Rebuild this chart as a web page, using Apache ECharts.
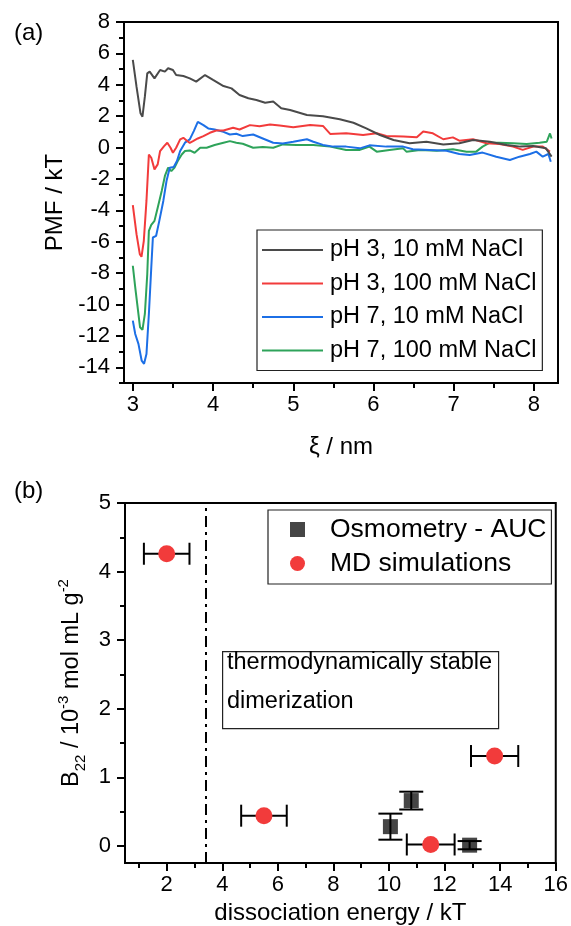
<!DOCTYPE html>
<html>
<head>
<meta charset="utf-8">
<script src="https://cdn.jsdelivr.net/npm/echarts@6/dist/echarts.min.js"></script>
<style>
  html, body { margin: 0; padding: 0; background: #fff; }
  #chart { width: 571px; height: 926px; }
</style>
</head>
<body>
<div id="chart"></div>
<script>
// (a) PMF curves, [xi (nm), PMF (kT)]
const pH3Na10 = [[3.0,5.58],[3.046,3.88],[3.096,2.18],[3.12,1.97],[3.15,3.24],[3.18,4.73],[3.21,4.84],[3.27,4.41],[3.34,4.94],[3.40,4.84],[3.44,5.05],[3.50,4.94],[3.54,4.62],[3.63,4.56],[3.71,4.41],[3.79,4.2],[3.90,4.62],[4.0,4.31],[4.13,3.92],[4.23,3.77],[4.33,3.35],[4.44,3.14],[4.54,3.03],[4.65,2.86],[4.75,2.93],[4.85,2.5],[4.96,2.39],[5.17,2.07],[5.37,2.0],[5.58,1.8],[5.75,1.58],[5.91,1.22],[6.08,0.8],[6.25,0.48],[6.45,0.27],[6.66,0.37],[6.87,0.2],[7.07,0.27],[7.24,0.48],[7.45,0.37],[7.66,0.17],[7.83,0.06],[7.99,0.1],[8.15,-0.05],[8.22,-0.58]];
const pH3Na100 = [[3.0,-3.66],[3.046,-5.52],[3.087,-6.79],[3.108,-6.96],[3.137,-5.94],[3.17,-3.4],[3.2,-0.44],[3.23,-0.65],[3.27,-1.39],[3.31,-1.07],[3.34,-0.22],[3.39,0.09],[3.43,0.31],[3.47,-0.01],[3.50,-0.33],[3.54,-0.01],[3.59,0.52],[3.63,0.62],[3.67,0.45],[3.71,0.3],[3.75,0.41],[3.81,0.58],[3.88,0.73],[3.96,0.94],[4.04,1.09],[4.13,1.09],[4.25,1.26],[4.33,1.15],[4.46,1.43],[4.58,1.36],[4.71,1.47],[4.83,1.4],[5.0,1.29],[5.21,1.44],[5.37,1.38],[5.46,0.87],[5.66,0.91],[5.87,0.8],[6.04,0.91],[6.16,0.74],[6.37,0.7],[6.54,0.65],[6.62,1.02],[6.74,0.91],[6.87,0.53],[6.99,0.65],[7.07,0.44],[7.24,0.53],[7.41,0.27],[7.57,0.23],[7.74,0.06],[7.86,-0.15],[7.99,0.06],[8.11,0.06],[8.2,-0.26]];
const pH7Na10 = [[3.0,-11.03],[3.03,-11.88],[3.07,-12.51],[3.11,-13.57],[3.14,-13.78],[3.17,-13.15],[3.2,-10.6],[3.23,-7.64],[3.25,-5.73],[3.29,-5.63],[3.33,-4.67],[3.38,-3.4],[3.42,-2.13],[3.46,-1.28],[3.51,-1.24],[3.55,-0.86],[3.59,-0.22],[3.65,0.31],[3.71,0.52],[3.76,1.05],[3.81,1.64],[3.88,1.43],[3.94,1.22],[4.02,1.15],[4.13,1.0],[4.21,0.83],[4.29,0.88],[4.37,0.73],[4.5,0.83],[4.62,0.58],[4.75,0.31],[4.87,0.26],[5.0,0.37],[5.17,0.53],[5.25,0.37],[5.37,0.17],[5.5,0.06],[5.66,0.06],[5.83,-0.05],[5.95,0.14],[6.16,0.06],[6.37,0.06],[6.49,-0.11],[6.7,-0.15],[6.91,-0.2],[7.07,-0.41],[7.2,-0.47],[7.36,-0.32],[7.53,-0.58],[7.70,-0.79],[7.82,-0.58],[7.95,-0.41],[8.03,-0.26],[8.11,-0.58],[8.18,-0.41],[8.21,-0.9]];
const pH7Na100 = [[3.0,-7.53],[3.03,-8.91],[3.06,-10.18],[3.09,-11.45],[3.12,-11.62],[3.15,-10.6],[3.18,-8.06],[3.2,-5.31],[3.23,-4.93],[3.27,-4.67],[3.31,-3.83],[3.36,-2.77],[3.4,-1.81],[3.44,-1.28],[3.48,-1.5],[3.52,-1.28],[3.56,-0.86],[3.61,-0.44],[3.65,-0.22],[3.71,-0.18],[3.77,-0.33],[3.84,-0.01],[3.92,-0.01],[4.02,0.16],[4.13,0.31],[4.21,0.41],[4.29,0.31],[4.37,0.24],[4.5,-0.01],[4.62,0.03],[4.75,-0.01],[4.87,0.2],[5.04,0.17],[5.25,0.17],[5.46,0.06],[5.66,-0.15],[5.83,-0.15],[5.95,0.06],[6.04,-0.26],[6.2,-0.15],[6.37,-0.05],[6.41,-0.26],[6.58,-0.15],[6.79,-0.2],[6.99,-0.11],[7.16,-0.26],[7.28,-0.26],[7.36,0.06],[7.45,0.31],[7.57,0.31],[7.74,0.27],[7.91,0.23],[8.07,0.31],[8.16,0.37],[8.2,0.9],[8.22,0.58]];
const pmfNames = ['pH 3, 10 mM NaCl', 'pH 3, 100 mM NaCl', 'pH 7, 10 mM NaCl', 'pH 7, 100 mM NaCl'];
const pmfColors = ['#4a4a4a', '#f23b3b', '#1c6fe6', '#2ea35a'];

// (b) second virial coefficient vs dissociation energy
const osmEnergy = [10.05, 10.8, 12.9];
const osmB22 = [0.28, 0.66, 0.01];
const osmB22Err = [0.19, 0.13, 0.06];
const mdEnergy = [2.0, 5.5, 11.5, 13.8];
const mdB22 = [4.26, 0.44, 0.02, 1.31];
const mdEnergyErr = [0.82, 0.82, 0.86, 0.85];
const stableLimit = 3.4;

const FONT = 'Liberation Sans, Arial, sans-serif';

function ticks(from, to, step) {
  const out = [];
  for (let v = from; v <= to + 1e-9; v += step) out.push(+v.toFixed(3));
  return out;
}

// major axis (line, labels, long ticks) + an overlaid axis carrying only the short minor ticks
function axis(gridIndex, pos, min, max, major, minor, extra) {
  const main = Object.assign({
    type: 'value', gridIndex, position: pos, offset: 0, min, max,
    axisLine: { show: true, onZero: false, lineStyle: { color: '#000', width: 2 } },
    axisTick: { show: true, inside: false, length: 8, customValues: major, lineStyle: { color: '#000', width: 2 } },
    axisLabel: { customValues: major, color: '#000', fontSize: 22, fontFamily: FONT, margin: pos === 'left' ? 14 : 11 },
    splitLine: { show: false },
    nameLocation: 'middle',
    nameTextStyle: { color: '#000', fontSize: 24, fontFamily: FONT }
  }, extra);
  const small = {
    type: 'value', gridIndex, position: pos, offset: 0, min, max,
    axisLine: { show: false, onZero: false },
    axisTick: { show: true, inside: false, length: 5, customValues: minor, lineStyle: { color: '#000', width: 2 } },
    axisLabel: { show: false },
    splitLine: { show: false }
  };
  return [main, small];
}

function xErrBar(params, api) {
  const x = api.value(0), y = api.value(1), e = api.value(2);
  const a = api.coord([x - e, y]), b = api.coord([x + e, y]);
  const s = { stroke: '#000', lineWidth: 2 };
  return { type: 'group', children: [
    { type: 'line', shape: { x1: a[0], y1: a[1], x2: b[0], y2: b[1] }, style: s },
    { type: 'line', shape: { x1: a[0], y1: a[1] - 11, x2: a[0], y2: a[1] + 11 }, style: s },
    { type: 'line', shape: { x1: b[0], y1: b[1] - 11, x2: b[0], y2: b[1] + 11 }, style: s }
  ] };
}

function yErrBar(params, api) {
  const x = api.value(0), y = api.value(1), e = api.value(2);
  const a = api.coord([x, y - e]), b = api.coord([x, y + e]);
  const s = { stroke: '#000', lineWidth: 2 };
  return { type: 'group', children: [
    { type: 'line', shape: { x1: a[0], y1: a[1], x2: b[0], y2: b[1] }, style: s },
    { type: 'line', shape: { x1: a[0] - 12, y1: a[1], x2: a[0] + 12, y2: a[1] }, style: s },
    { type: 'line', shape: { x1: b[0] - 12, y1: b[1], x2: b[0] + 12, y2: b[1] }, style: s }
  ] };
}

const chart = echarts.init(document.getElementById('chart'), null, { renderer: 'canvas' });

const xTop = axis(0, 'bottom', 2.89, 8.3, ticks(3, 8, 1), ticks(3.5, 7.5, 1), { name: 'ξ / nm', nameGap: 52 });
const yTop = axis(0, 'left', -15, 8, ticks(-14, 8, 2), ticks(-15, 7, 2), { name: 'PMF / kT', nameGap: 52 });
const xBot = axis(1, 'bottom', 0.5, 16, ticks(2, 16, 2), ticks(1, 15, 2), { name: 'dissociation energy / kT', nameGap: 38 });
const yBot = axis(1, 'left', -0.25, 5, ticks(0, 5, 1), ticks(0.5, 4.5, 1), {
  name: '{m|B}{s|22}{m| / 10}{p|-3}{m| mol mL g}{p|-2}',
  nameGap: 33,
  nameTextStyle: {
    color: '#000', fontFamily: FONT,
    rich: {
      m: { fontSize: 23.5, lineHeight: 32, fontFamily: FONT, color: '#000', verticalAlign: 'middle' },
      s: { fontSize: 15, lineHeight: 15, fontFamily: FONT, color: '#000', verticalAlign: 'bottom' },
      p: { fontSize: 15, lineHeight: 19, fontFamily: FONT, color: '#000', verticalAlign: 'top' }
    }
  }
});

const lineSeries = [pH3Na10, pH3Na100, pH7Na10, pH7Na100].map((d, i) => ({
  name: pmfNames[i], type: 'line', xAxisIndex: 0, yAxisIndex: 0,
  data: d, showSymbol: false, symbol: 'none', smooth: false,
  lineStyle: { color: pmfColors[i], width: 2 }, itemStyle: { color: pmfColors[i] },
  z: 3 + (3 - i)
}));

const option = {
  animation: false,
  textStyle: { fontFamily: FONT },
  grid: [
    { left: 124, top: 22, right: 13, bottom: 543, show: true, borderColor: '#000', borderWidth: 2 },
    { left: 125, top: 503, right: 13, bottom: 63, show: true, borderColor: '#000', borderWidth: 2 }
  ],
  xAxis: [xTop[0], xTop[1], xBot[0], xBot[1]],
  yAxis: [yTop[0], yTop[1], yBot[0], yBot[1]],
  legend: [
    {
      data: pmfNames, orient: 'vertical', left: 257, top: 230,
      selectedMode: false, icon: 'rect', itemWidth: 61, itemHeight: 2, itemGap: 9.5,
      padding: [8, 6, 8, 5], borderColor: '#222', borderWidth: 1.2,
      textStyle: { fontSize: 23.5, color: '#000', fontFamily: FONT, padding: [0, 0, 0, 2] }
    },
    {
      data: [{ name: 'Osmometry - AUC', icon: 'rect' }, { name: 'MD simulations', icon: 'circle' }],
      orient: 'vertical', left: 268, top: 510,
      selectedMode: false, itemWidth: 15, itemHeight: 15, itemGap: 7,
      padding: [6, 5, 7, 22], borderColor: '#222', borderWidth: 1.2,
      textStyle: { fontSize: 26.5, color: '#000', fontFamily: FONT, padding: [0, 0, 0, 20] }
    }
  ],
  graphic: [
    { type: 'text', left: 14, top: 21, style: { text: '(a)', fontSize: 24, fontFamily: FONT, fill: '#000' } },
    { type: 'text', left: 14, top: 479, style: { text: '(b)', fontSize: 24, fontFamily: FONT, fill: '#000' } },
    {
      type: 'rect', left: 222, top: 651, z: 10,
      shape: { width: 276, height: 77 },
      style: { fill: '#fff', stroke: '#222', lineWidth: 1.2 }
    },
    {
      type: 'text', left: 227, top: 643, z: 11,
      style: { text: 'thermodynamically stable\ndimerization', fontSize: 23.5, fontFamily: FONT, fill: '#000', lineHeight: 39 }
    }
  ],
  series: lineSeries.concat([
    {
      name: 'osmErr', type: 'custom', xAxisIndex: 2, yAxisIndex: 2, z: 4,
      renderItem: yErrBar, encode: { x: 0, y: 1 },
      data: osmEnergy.map((x, i) => [x, osmB22[i], osmB22Err[i]])
    },
    {
      name: 'mdErr', type: 'custom', xAxisIndex: 2, yAxisIndex: 2, z: 4,
      renderItem: xErrBar, encode: { x: 0, y: 1 },
      data: mdEnergy.map((x, i) => [x, mdB22[i], mdEnergyErr[i]])
    },
    {
      name: 'Osmometry - AUC', type: 'scatter', xAxisIndex: 2, yAxisIndex: 2, z: 3,
      symbol: 'rect', symbolSize: 15, itemStyle: { color: '#454545', opacity: 1 },
      data: osmEnergy.map((x, i) => [x, osmB22[i]])
    },
    {
      name: 'MD simulations', type: 'scatter', xAxisIndex: 2, yAxisIndex: 2, z: 5,
      symbol: 'circle', symbolSize: 17, itemStyle: { color: '#f23b3b', opacity: 1 },
      data: mdEnergy.map((x, i) => [x, mdB22[i]]),
      markLine: {
        silent: true, symbol: 'none', label: { show: false },
        lineStyle: { color: '#000', width: 2, type: [11, 5, 3, 5] },
        data: [{ xAxis: stableLimit }]
      }
    }
  ])
};

chart.setOption(option);
</script>
</body>
</html>
